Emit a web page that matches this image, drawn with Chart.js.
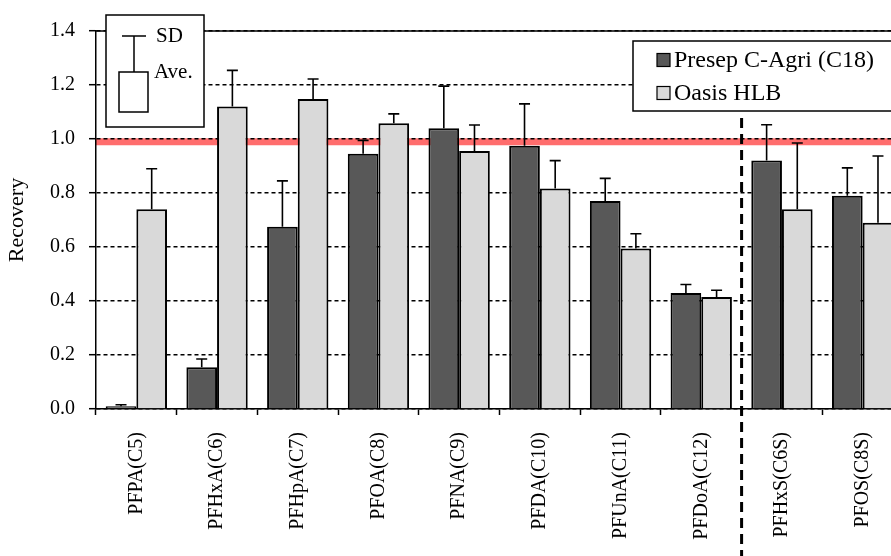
<!DOCTYPE html>
<html>
<head>
<meta charset="utf-8">
<script src="https://cdn.jsdelivr.net/npm/chart.js@4/dist/chart.umd.min.js"></script>
<style>
  html, body { margin: 0; padding: 0; background: #fff; overflow: hidden; }
  #wrap { width: 891px; height: 556px; overflow: hidden; }
  canvas { display: block; }
</style>
</head>
<body>
<div id="wrap"><canvas id="recovery" width="905" height="556"></canvas></div>
<script>
// compounds on the x axis
const categories = [
  "PFPA(C5)", "PFHxA(C6)", "PFHpA(C7)", "PFOA(C8)", "PFNA(C9)",
  "PFDA(C10)", "PFUnA(C11)", "PFDoA(C12)", "PFHxS(C6S)", "PFOS(C8S)",
];

// average recovery and standard deviation per cartridge
const presepAve = [0.01, 0.155, 0.675, 0.945, 1.04, 0.975, 0.77, 0.43, 0.92, 0.79];
const presepSD = [0.006, 0.03, 0.17, 0.05, 0.156, 0.155, 0.084, 0.031, 0.133, 0.103];
const oasisAve = [0.74, 1.12, 1.148, 1.058, 0.956, 0.817, 0.594, 0.415, 0.74, 0.69];
const oasisSD = [0.15, 0.134, 0.074, 0.035, 0.096, 0.103, 0.055, 0.025, 0.245, 0.247];

const seriesLabels = ["Presep C-Agri (C18)", "Oasis HLB"];
const yTicks = [0, 0.2, 0.4, 0.6, 0.8, 1.0, 1.2, 1.4];
const targetRecovery = 0.99;
// the carboxylic acids end here, sulfonates follow
const groupSplitAfter = 7;

const serif = "'Liberation Serif', 'Times New Roman', serif";

// red target band under the grid
const targetBand = {
  id: "targetBand",
  beforeDraw(chart) {
    const { ctx, chartArea, scales: { y } } = chart;
    ctx.save();
    ctx.fillStyle = "#fff";
    ctx.fillRect(0, 0, chart.width, chart.height);
    ctx.strokeStyle = "rgba(255, 30, 30, 0.65)";
    ctx.lineWidth = 7;
    const py = y.getPixelForValue(targetRecovery);
    ctx.beginPath();
    ctx.moveTo(chartArea.left, py);
    ctx.lineTo(chartArea.right, py);
    ctx.stroke();
    ctx.restore();
  },
};

// upper SD whiskers
const errorBars = {
  id: "errorBars",
  afterDatasetsDraw(chart) {
    const { ctx, scales: { y } } = chart;
    ctx.save();
    ctx.strokeStyle = "#000";
    ctx.lineWidth = 1.6;
    chart.data.datasets.forEach((ds, i) => {
      chart.getDatasetMeta(i).data.forEach((bar, j) => {
        const top = y.getPixelForValue(ds.data[j] + ds.sd[j]);
        ctx.beginPath();
        ctx.moveTo(bar.x, bar.y);
        ctx.lineTo(bar.x, top);
        ctx.moveTo(bar.x - 5.5, top);
        ctx.lineTo(bar.x + 5.5, top);
        ctx.stroke();
      });
    });
    ctx.restore();
  },
};

// frame line, group divider, legend and the SD/Ave key
const decorations = {
  id: "decorations",
  afterDraw(chart) {
    const { ctx, chartArea, scales: { x } } = chart;
    ctx.save();

    // solid top line at 1.4
    ctx.strokeStyle = "#000";
    ctx.lineWidth = 1.5;
    ctx.beginPath();
    ctx.moveTo(chartArea.left, chartArea.top);
    ctx.lineTo(chartArea.right, chartArea.top);
    ctx.stroke();

    // legend box
    const lx = chartArea.left + 537;
    const ly = chartArea.top + 10;
    ctx.fillStyle = "#fff";
    ctx.fillRect(lx, ly, 400, 70);
    ctx.strokeRect(lx, ly, 400, 70);
    ctx.font = `24px ${serif}`;
    ctx.textBaseline = "middle";
    ctx.textAlign = "left";
    chart.data.datasets.forEach((ds, i) => {
      const cy = ly + 19 + i * 33;
      ctx.fillStyle = ds.backgroundColor;
      ctx.fillRect(lx + 24, cy - 6.5, 13, 13);
      ctx.lineWidth = 1.2;
      ctx.strokeRect(lx + 24, cy - 6.5, 13, 13);
      ctx.fillStyle = "#000";
      ctx.fillText(ds.label, lx + 41, cy + 1);
    });

    // dashed divider between the two compound groups
    const dx = (x.getPixelForValue(groupSplitAfter) + x.getPixelForValue(groupSplitAfter + 1)) / 2;
    ctx.lineWidth = 3;
    ctx.setLineDash([10, 6]);
    ctx.beginPath();
    ctx.moveTo(dx, ly + 77);
    ctx.lineTo(dx, chart.height);
    ctx.stroke();
    ctx.setLineDash([]);

    // key explaining the whisker
    const kx = chartArea.left + 10;
    const ky = chartArea.top - 16;
    ctx.lineWidth = 1.5;
    ctx.fillStyle = "#fff";
    ctx.fillRect(kx, ky, 98, 112);
    ctx.strokeRect(kx, ky, 98, 112);
    ctx.beginPath();
    ctx.moveTo(kx + 28, ky + 21);
    ctx.lineTo(kx + 28, ky + 57);
    ctx.moveTo(kx + 16, ky + 21);
    ctx.lineTo(kx + 40, ky + 21);
    ctx.stroke();
    ctx.strokeRect(kx + 13, ky + 57, 29, 40);
    ctx.fillStyle = "#000";
    ctx.font = `21px ${serif}`;
    ctx.fillText("SD", kx + 50, ky + 21);
    ctx.fillText("Ave.", kx + 48, ky + 57);

    ctx.restore();
  },
};

new Chart(document.getElementById("recovery"), {
  type: "bar",
  data: {
    labels: categories,
    datasets: [
      {
        label: seriesLabels[0],
        data: presepAve,
        sd: presepSD,
        backgroundColor: "#585858",
        borderColor: "#000",
        borderWidth: 2,
        categoryPercentage: 0.76,
        barPercentage: 1.0,
      },
      {
        label: seriesLabels[1],
        data: oasisAve,
        sd: oasisSD,
        backgroundColor: "#d9d9d9",
        borderColor: "#000",
        borderWidth: 2,
        categoryPercentage: 0.76,
        barPercentage: 1.0,
      },
    ],
  },
  options: {
    responsive: false,
    animation: false,
    layout: { padding: { top: 31, right: 2, bottom: 0, left: 0 } },
    plugins: {
      legend: { display: false },
      tooltip: { enabled: false },
    },
    scales: {
      x: {
        afterFit: (scale) => { scale.height = 147; },
        grid: {
          offset: true,
          drawOnChartArea: false,
          tickLength: 6,
          tickColor: "#000",
          tickWidth: 1.5,
        },
        border: { color: "#000", width: 1.5 },
        ticks: {
          autoSkip: false,
          minRotation: 90,
          maxRotation: 90,
          padding: 17,
          color: "#000",
          font: { family: serif, size: 20 },
        },
      },
      y: {
        min: 0,
        max: 1.4,
        afterFit: (scale) => { scale.width = 96; },
        afterBuildTicks: (scale) => {
          scale.ticks = yTicks.map((v) => ({ value: v }));
        },
        grid: {
          color: "#000",
          lineWidth: 1.4,
          tickLength: 7,
          tickColor: "#000",
          tickWidth: 1.5,
          tickBorderDash: [],
        },
        border: { color: "#000", width: 1.5, dash: [4, 3] },
        ticks: {
          padding: 14,
          color: "#000",
          font: { family: serif, size: 20 },
          callback: (v) => Number(v).toFixed(1),
        },
        title: {
          display: true,
          text: "Recovery",
          color: "#000",
          padding: { top: 4, bottom: 0 },
          font: { family: serif, size: 22 },
        },
      },
    },
  },
  plugins: [targetBand, errorBars, decorations],
});
</script>
</body>
</html>
